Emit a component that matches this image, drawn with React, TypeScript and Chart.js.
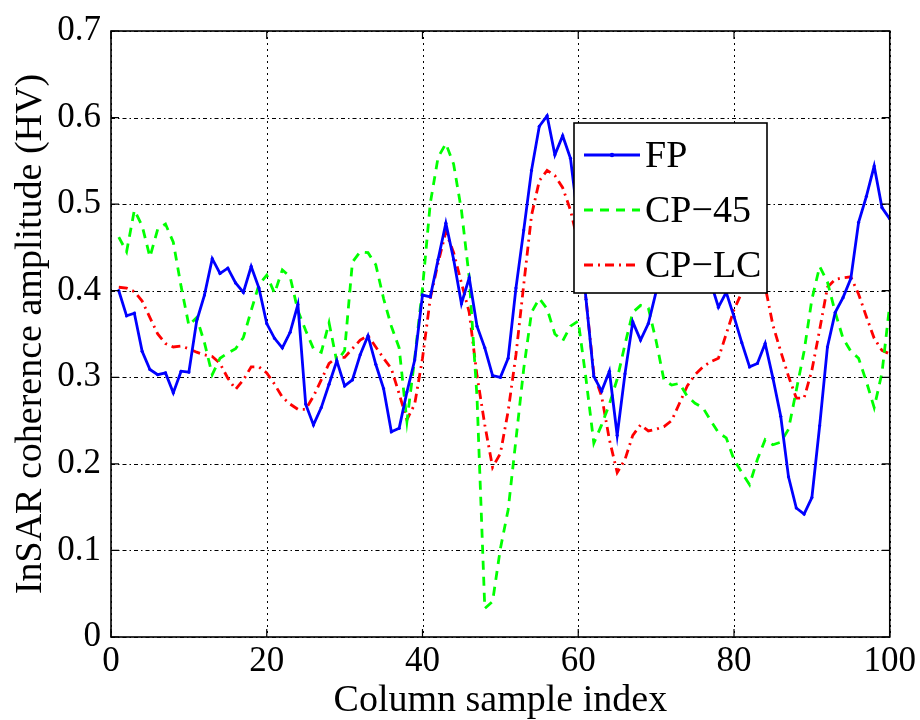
import React, { useEffect, useRef } from "react";
import { Chart, registerables } from "chart.js";

Chart.register(...registerables);

const sampleIndex = [
  1, 2, 3, 4, 5, 6, 7, 8, 9, 10, 11, 12, 13, 14, 15, 16, 17, 18, 19, 20,
  21, 22, 23, 24, 25, 26, 27, 28, 29, 30, 31, 32, 33, 34, 35, 36, 37, 38, 39, 40,
  41, 42, 43, 44, 45, 46, 47, 48, 49, 50, 51, 52, 53, 54, 55, 56, 57, 58, 59, 60,
  61, 62, 63, 64, 65, 66, 67, 68, 69, 70, 71, 72, 73, 74, 75, 76, 77, 78, 79, 80,
  81, 82, 83, 84, 85, 86, 87, 88, 89, 90, 91, 92, 93, 94, 95, 96, 97, 98, 99, 100,
];

const fpValues = [
  0.4, 0.371, 0.374, 0.33, 0.309, 0.303, 0.305, 0.282, 0.307, 0.306,
  0.365, 0.395, 0.437, 0.42, 0.426, 0.409, 0.398, 0.428, 0.403, 0.362,
  0.345, 0.334, 0.352, 0.384, 0.269, 0.245, 0.265, 0.292, 0.319, 0.29,
  0.297, 0.326, 0.348, 0.315, 0.287, 0.237, 0.241, 0.283, 0.32, 0.395,
  0.393, 0.436, 0.478, 0.436, 0.385, 0.415, 0.359, 0.334, 0.302, 0.3,
  0.322, 0.403, 0.47, 0.539, 0.59, 0.602, 0.557, 0.579, 0.553, 0.48,
  0.39, 0.301, 0.284, 0.307, 0.233, 0.304, 0.364, 0.343, 0.362, 0.399,
  0.43, 0.46, 0.5, 0.48, 0.45, 0.43, 0.41, 0.381, 0.398, 0.37,
  0.34, 0.312, 0.316, 0.339, 0.299, 0.255, 0.185, 0.149, 0.142, 0.161,
  0.244, 0.335, 0.375, 0.392, 0.414, 0.479, 0.509, 0.544, 0.496, 0.483,
];

const cp45Values = [
  0.462, 0.445, 0.493, 0.475, 0.439, 0.471, 0.477, 0.456, 0.405, 0.36,
  0.369, 0.34, 0.303, 0.322, 0.328, 0.333, 0.346, 0.377, 0.407, 0.418,
  0.397, 0.424, 0.416, 0.377, 0.354, 0.333, 0.329, 0.363, 0.318, 0.331,
  0.433, 0.445, 0.444, 0.43, 0.391, 0.359, 0.334, 0.249, 0.322, 0.403,
  0.501, 0.554, 0.57, 0.546, 0.493, 0.415, 0.277, 0.033, 0.041, 0.102,
  0.147, 0.228, 0.31, 0.375, 0.391, 0.379, 0.35, 0.342, 0.359, 0.365,
  0.298, 0.224, 0.245, 0.269, 0.298, 0.338, 0.375, 0.383, 0.38, 0.342,
  0.297, 0.291, 0.293, 0.278, 0.27, 0.265, 0.25, 0.236, 0.23, 0.205,
  0.19, 0.176, 0.205, 0.228, 0.222, 0.225, 0.24, 0.285, 0.33, 0.39,
  0.428, 0.41, 0.375, 0.345, 0.33, 0.322, 0.295, 0.265, 0.305, 0.384,
];

const cplcValues = [
  0.404, 0.403, 0.399, 0.388, 0.369, 0.35, 0.339, 0.335, 0.336, 0.333,
  0.329, 0.326, 0.324, 0.316, 0.299, 0.286, 0.297, 0.312, 0.312, 0.305,
  0.292, 0.277, 0.269, 0.263, 0.263, 0.278, 0.297, 0.316, 0.323, 0.323,
  0.333, 0.343, 0.348, 0.335, 0.322, 0.31, 0.281, 0.251, 0.269, 0.322,
  0.391, 0.432, 0.468, 0.444, 0.409, 0.375, 0.302, 0.245, 0.196, 0.212,
  0.261, 0.326, 0.407, 0.487, 0.527, 0.539, 0.533, 0.519, 0.493, 0.455,
  0.39, 0.304, 0.278, 0.228, 0.19, 0.205, 0.233, 0.245, 0.238, 0.24,
  0.243, 0.25, 0.27, 0.29, 0.303, 0.312, 0.318, 0.322, 0.35, 0.378,
  0.398, 0.42, 0.42, 0.405, 0.36, 0.33, 0.301, 0.276, 0.276, 0.308,
  0.355, 0.404, 0.413, 0.415, 0.416, 0.396, 0.37, 0.345, 0.331, 0.327,
];

const seriesNames = ["FP", "CP\u221245", "CP\u2212LC"];
const xTicks = [0, 20, 40, 60, 80, 100];
const xTickLabels = ["0", "20", "40", "60", "80", "100"];
const yTicks = [0, 0.1, 0.2, 0.3, 0.4, 0.5, 0.6, 0.7];
const yTickLabels = ["0", "0.1", "0.2", "0.3", "0.4", "0.5", "0.6", "0.7"];
const xTitle = "Column sample index";
const yTitle = "InSAR coherence amplitude (HV)";

const FONT = "'Liberation Serif', 'Times New Roman', serif";

const styles = [
  { color: "#0000ff", dash: [] as number[], point: 1.6 },
  { color: "#00ff00", dash: [9, 7], point: 0 },
  { color: "#ff0000", dash: [9, 5, 2, 5], point: 0 },
];

const framePlugin = {
  id: "frameTicks",
  beforeDatasetsDraw(chart: any) {
    const { ctx, chartArea: a, scales } = chart;
    ctx.save();
    ctx.strokeStyle = "#000";
    ctx.lineWidth = 1;
    ctx.setLineDash([2, 4]);
    ctx.beginPath();
    for (const v of xTicks) {
      const px = Math.round(scales.x.getPixelForValue(v)) + 0.5;
      ctx.moveTo(px, a.top);
      ctx.lineTo(px, a.bottom);
    }
    ctx.stroke();
    ctx.setLineDash([4, 3, 1.5, 3]);
    ctx.beginPath();
    for (const v of yTicks) {
      const py = Math.round(scales.y.getPixelForValue(v)) + 0.5;
      ctx.moveTo(a.left, py);
      ctx.lineTo(a.right, py);
    }
    ctx.stroke();
    ctx.restore();
  },
  afterDatasetsDraw(chart: any) {
    const { ctx, chartArea: a, scales } = chart;
    ctx.save();
    ctx.setLineDash([]);
    ctx.strokeStyle = "#000";
    ctx.lineWidth = 1.6;
    ctx.strokeRect(a.left, a.top, a.right - a.left, a.bottom - a.top);
    const L = 8;
    ctx.lineWidth = 1.2;
    ctx.beginPath();
    for (const v of xTicks) {
      const px = scales.x.getPixelForValue(v);
      ctx.moveTo(px, a.bottom);
      ctx.lineTo(px, a.bottom - L);
      ctx.moveTo(px, a.top);
      ctx.lineTo(px, a.top + L);
    }
    for (const v of yTicks) {
      const py = scales.y.getPixelForValue(v);
      ctx.moveTo(a.left, py);
      ctx.lineTo(a.left + L, py);
      ctx.moveTo(a.right, py);
      ctx.lineTo(a.right - L, py);
    }
    ctx.stroke();
    ctx.restore();
  },
  afterDraw(chart: any) {
    const { ctx, chartArea: a } = chart;
    const bx = a.left + 463;
    const by = a.top + 92;
    const bw = 193;
    const bh = 170;
    ctx.save();
    ctx.fillStyle = "#fff";
    ctx.fillRect(bx, by, bw, bh);
    ctx.setLineDash([]);
    ctx.strokeStyle = "#000";
    ctx.lineWidth = 1.6;
    ctx.strokeRect(bx, by, bw, bh);
    const rows = [32, 87, 142];
    chart.data.datasets.forEach((ds: any, i: number) => {
      const y = by + rows[i];
      const s = styles[i];
      ctx.strokeStyle = s.color;
      ctx.lineWidth = 2.8;
      ctx.setLineDash(s.dash);
      ctx.beginPath();
      ctx.moveTo(bx + 10, y);
      ctx.lineTo(bx + 66, y);
      ctx.stroke();
      if (s.point > 0) {
        ctx.fillStyle = s.color;
        ctx.beginPath();
        ctx.arc(bx + 38, y, 2.2, 0, Math.PI * 2);
        ctx.fill();
      }
      ctx.setLineDash([]);
      ctx.fillStyle = "#000";
      ctx.font = `38px ${FONT}`;
      ctx.textAlign = "left";
      ctx.textBaseline = "alphabetic";
      ctx.fillText(ds.label, bx + 71, y + 12);
    });
    ctx.restore();
  },
};

export default function App() {
  const ref = useRef<HTMLCanvasElement | null>(null);

  useEffect(() => {
    if (!ref.current) return;
    const datasets = [fpValues, cp45Values, cplcValues].map((vals, i) => ({
      label: seriesNames[i],
      data: vals.map((v, k) => ({ x: sampleIndex[k], y: v })),
      borderColor: styles[i].color,
      backgroundColor: styles[i].color,
      borderWidth: 2.8,
      borderDash: styles[i].dash,
      pointRadius: styles[i].point,
      pointHoverRadius: styles[i].point,
      pointBorderWidth: 0,
      tension: 0,
      fill: false,
    }));

    const chart = new Chart(ref.current, {
      type: "line",
      data: { datasets },
      plugins: [framePlugin],
      options: {
        animation: false,
        responsive: false,
        maintainAspectRatio: false,
        layout: { padding: { left: 0, right: 30, top: 23, bottom: 0 } },
        plugins: {
          legend: { display: false },
          tooltip: { enabled: false },
        },
        scales: {
          x: {
            type: "linear",
            min: 0,
            max: 100,
            afterBuildTicks: (s: any) => {
              s.ticks = xTicks.map((v) => ({ value: v }));
            },
            afterFit: (s: any) => {
              s.height = 83;
            },
            ticks: {
              autoSkip: false,
              maxRotation: 0,
              padding: 4,
              color: "#000",
              font: { family: FONT, size: 35 },
              callback: (v: any) => xTickLabels[xTicks.indexOf(Number(v))] ?? "",
            },
            grid: { display: false, drawTicks: false },
            border: { display: false },
            title: {
              display: true,
              text: xTitle,
              color: "#000",
              font: { family: FONT, size: 38, lineHeight: 1.0 },
              padding: { top: 0, bottom: 0 },
            },
          },
          y: {
            type: "linear",
            min: 0,
            max: 0.7,
            afterBuildTicks: (s: any) => {
              s.ticks = yTicks.map((v) => ({ value: v }));
            },
            afterFit: (s: any) => {
              s.width = 111;
            },
            ticks: {
              autoSkip: false,
              padding: 10,
              color: "#000",
              font: { family: FONT, size: 35 },
              callback: (v: any) => {
                const idx = yTicks.findIndex((t) => Math.abs(t - Number(v)) < 1e-9);
                return idx >= 0 ? yTickLabels[idx] : "";
              },
            },
            grid: { display: false, drawTicks: false },
            border: { display: false },
            title: {
              display: true,
              text: yTitle,
              color: "#000",
              font: { family: FONT, size: 38 },
              padding: { top: 8, bottom: 0 },
            },
          },
        },
      } as any,
    });
    return () => chart.destroy();
  }, []);

  return (
    <div style={{ position: "absolute", left: 0, top: 0, width: 920, height: 720, background: "#fff" }}>
      <canvas ref={ref} width={920} height={720} style={{ display: "block" }} />
    </div>
  );
}
